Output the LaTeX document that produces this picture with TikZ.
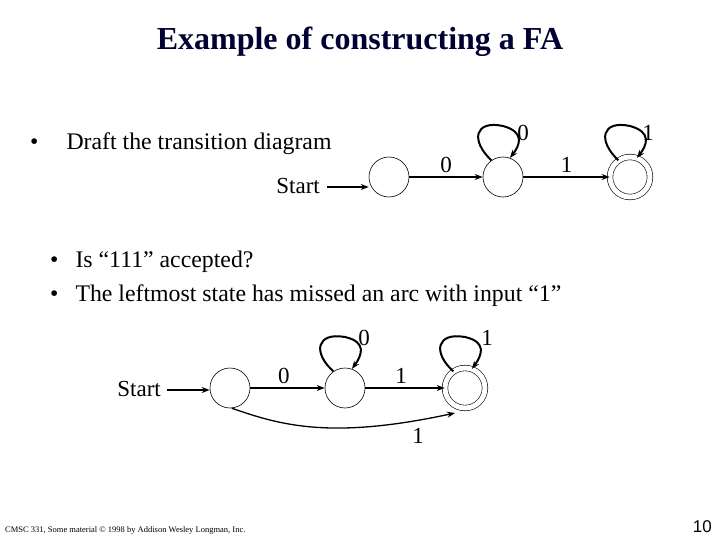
\documentclass[tikz,border=0pt]{standalone}
\usepackage{fontspec}
\setmainfont{Liberation Serif}
\newfontfamily\sansf{Liberation Sans}
\usetikzlibrary{arrows.meta}
\begin{document}
\begin{tikzpicture}[x=1pt,y=-1pt,
  st/.style={draw,circle,minimum size=40pt,inner sep=0pt,line width=0.6pt},
  acc/.style={st,double,double distance=5pt,minimum size=40pt},
  ar/.style={-{Stealth[length=8pt,width=6pt]},line width=1.3pt},
  lp/.style={ar,line width=2pt},
  lbl/.style={font=\fontsize{23}{25}\selectfont,inner sep=0pt},
  txt/.style={font=\fontsize{23.8}{26}\selectfont,inner sep=0pt,anchor=base west}]
\useasboundingbox (0,0) rectangle (720,540);
\node[font=\bfseries\fontsize{32}{34}\selectfont,text=black!80!blue] (title) at (360,42) {Example of constructing a FA};
\node[txt] (b1) at (30,150) {\textbullet\hspace{28pt}Draft the transition diagram};
\node[txt] (b2) at (50,267) {\textbullet\hspace{17pt}Is “111” accepted?};
\node[txt] (b3) at (50,301) {\textbullet\hspace{17pt}The leftmost state has missed an arc with input “1”};
% top automaton
\node[st] (a1) at (389,177) {};
\node[st] (a2) at (503,177) {};
\node[acc] (a3) at (630,177) {};
\node[lbl,anchor=east] (s1) at (320,186) {Start};
\coordinate (s1e) at (327,187);
\draw[ar] (s1e) -- (a1.west |- s1e);
\draw[ar] (a1) -- node[lbl,above=4pt]{0} (a2);
\draw[ar] (a2) -- node[lbl,above=4pt]{1} (a3);
\draw[lp] (a2.125) .. controls (470,140) and (475,120) .. (503,126) .. controls (525,132) and (520,145) .. (a2.70);
\node[lbl] (l0) at (523,133) {0};
\draw[lp] (a3.125) .. controls (597,140) and (602,120) .. (630,126) .. controls (652,132) and (647,145) .. (a3.70);
\node[lbl] (l1) at (648,133) {1};
% bottom automaton
\node[st] (c1) at (230,388) {};
\node[st] (c2) at (345,388) {};
\node[acc] (c3) at (465,388) {};
\node[lbl,anchor=east] (s2) at (161,389) {Start};
\coordinate (s2e) at (167,390);
\draw[ar] (s2e) -- (c1.west |- s2e);
\draw[ar] (c1) -- node[lbl,above=4pt,pos=0.45]{0} (c2);
\draw[ar] (c2) -- node[lbl,above=4pt,pos=0.45]{1} (c3);
\draw[lp] (c2.125) .. controls (312,352) and (317,332) .. (345,337) .. controls (367,342) and (362,355) .. (c2.70);
\node[lbl] (l2) at (364,338) {0};
\draw[lp] (c3.125) .. controls (432,352) and (437,332) .. (465,337) .. controls (487,342) and (482,355) .. (c3.70);
\node[lbl] (l3) at (487,338) {1};
\draw[ar] (c1.-85) .. controls (280,425) and (330,440) .. (455,413);
\node[lbl] (l4) at (418,436) {1};
% footer
\node[font=\fontsize{8.5}{9}\selectfont,anchor=west,inner sep=0pt] (foot) at (5,530) {CMSC 331, Some material \textcopyright\ 1998 by Addison Wesley Longman, Inc.};
\node[font=\sansf\fontsize{17}{18}\selectfont,anchor=east,inner sep=0pt] (pg) at (712,527) {10};
\end{tikzpicture}
\end{document}
